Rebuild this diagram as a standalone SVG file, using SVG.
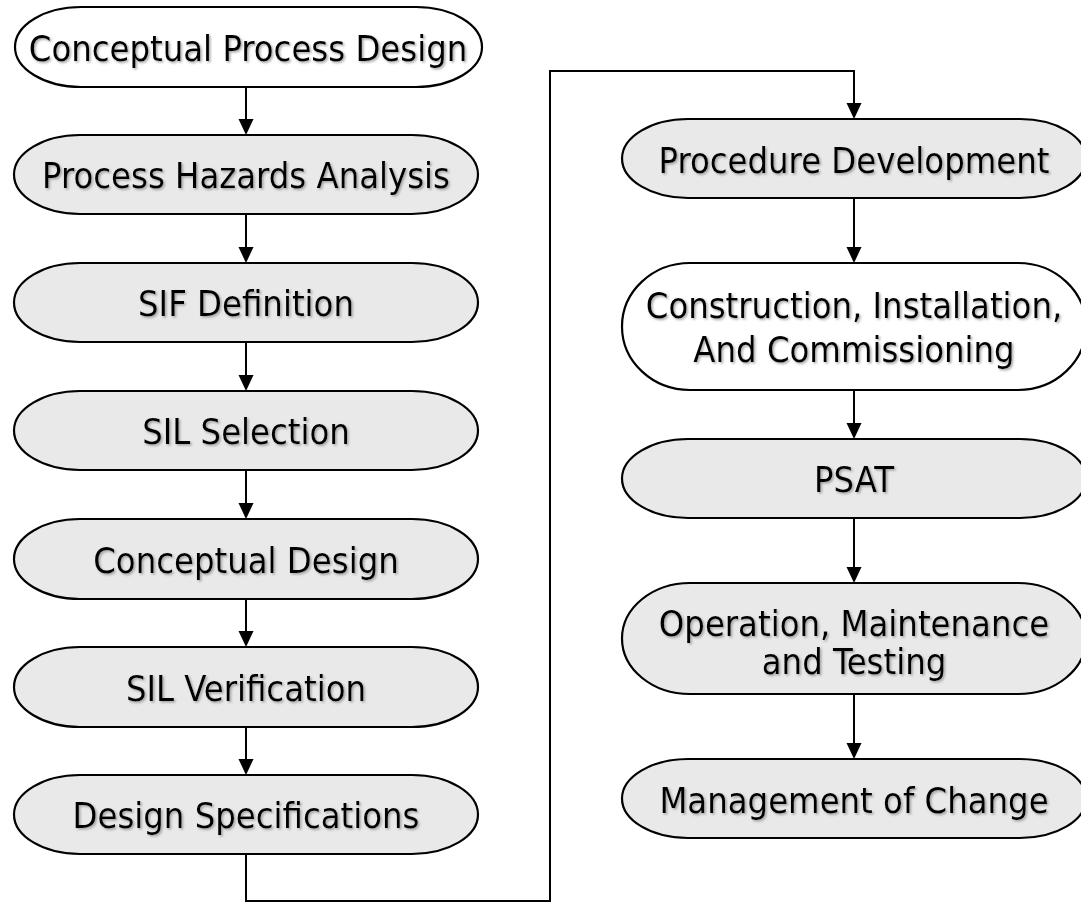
<svg xmlns="http://www.w3.org/2000/svg" xmlns:xlink="http://www.w3.org/1999/xlink" width="1081" height="903" viewBox="0 0 1081 903">
  <defs>
    <!-- downward arrowhead, tip at the origin -->
    <path id="head" d="M-7.5,-16 L7.5,-16 L0,0 Z" fill="#000"/>
    <filter id="txtShadow" x="-10%" y="-30%" width="120%" height="160%">
      <feDropShadow dx="1.5" dy="1.5" stdDeviation="1" flood-color="#808080" flood-opacity="0.7"/>
    </filter>
    <style>
      .node { stroke: #000; stroke-width: 2.2; }
      .grey { fill: #e9e9e9; }
      .white { fill: #ffffff; }
      .label { font-family: "DejaVu Sans Condensed", "DejaVu Sans", sans-serif; font-stretch: condensed; font-size: 36px; fill: #000; text-anchor: middle; filter: url(#txtShadow); }
      .conn { fill: none; stroke: #000; stroke-width: 2; }
    </style>
  </defs>

  <rect width="1081" height="903" fill="#fff"/>

  <!-- connectors -->
  <g id="connectors">
    <line class="conn" x1="246" y1="87" x2="246" y2="121"/>
    <use href="#head" xlink:href="#head" x="246" y="135"/>
    <line class="conn" x1="246" y1="214" x2="246" y2="249"/>
    <use href="#head" xlink:href="#head" x="246" y="263"/>
    <line class="conn" x1="246" y1="342" x2="246" y2="377"/>
    <use href="#head" xlink:href="#head" x="246" y="391"/>
    <line class="conn" x1="246" y1="470" x2="246" y2="505"/>
    <use href="#head" xlink:href="#head" x="246" y="519"/>
    <line class="conn" x1="246" y1="599" x2="246" y2="633"/>
    <use href="#head" xlink:href="#head" x="246" y="647"/>
    <line class="conn" x1="246" y1="727" x2="246" y2="761"/>
    <use href="#head" xlink:href="#head" x="246" y="775"/>
    <path class="conn" d="M246,854 V901 H550 V71 H854 V105"/>
    <use href="#head" xlink:href="#head" x="854" y="119"/>
    <line class="conn" x1="854" y1="198" x2="854" y2="249"/>
    <use href="#head" xlink:href="#head" x="854" y="263"/>
    <line class="conn" x1="854" y1="390" x2="854" y2="425"/>
    <use href="#head" xlink:href="#head" x="854" y="439"/>
    <line class="conn" x1="854" y1="518" x2="854" y2="569"/>
    <use href="#head" xlink:href="#head" x="854" y="583"/>
    <line class="conn" x1="854" y1="694" x2="854" y2="745"/>
    <use href="#head" xlink:href="#head" x="854" y="759"/>
  </g>

  <!-- left column -->
  <g id="conceptual-process-design">
    <path class="node white" d="M81,7 H416 A66 40 0 0 1 416,87 H81 A66 40 0 0 1 81,7 Z"/>
    <text class="label" x="248" y="61">Conceptual Process Design</text>
  </g>
  <g id="process-hazards-analysis">
    <path class="node grey" d="M80,135 H412 A66 39.5 0 0 1 412,214 H80 A66 39.5 0 0 1 80,135 Z"/>
    <text class="label" x="246" y="188">Process Hazards Analysis</text>
  </g>
  <g id="sif-definition">
    <path class="node grey" d="M80,263 H412 A66 39.5 0 0 1 412,342 H80 A66 39.5 0 0 1 80,263 Z"/>
    <text class="label" x="246" y="316">SIF Definition</text>
  </g>
  <g id="sil-selection">
    <path class="node grey" d="M80,391 H412 A66 39.5 0 0 1 412,470 H80 A66 39.5 0 0 1 80,391 Z"/>
    <text class="label" x="246" y="444">SIL Selection</text>
  </g>
  <g id="conceptual-design">
    <path class="node grey" d="M80,519 H412 A66 40 0 0 1 412,599 H80 A66 40 0 0 1 80,519 Z"/>
    <text class="label" x="246" y="573">Conceptual Design</text>
  </g>
  <g id="sil-verification">
    <path class="node grey" d="M80,647 H412 A66 40 0 0 1 412,727 H80 A66 40 0 0 1 80,647 Z"/>
    <text class="label" x="246" y="701">SIL Verification</text>
  </g>
  <g id="design-specifications">
    <path class="node grey" d="M80,775 H412 A66 39.5 0 0 1 412,854 H80 A66 39.5 0 0 1 80,775 Z"/>
    <text class="label" x="246" y="828">Design Specifications</text>
  </g>

  <!-- right column -->
  <g id="procedure-development">
    <path class="node grey" d="M688,119 H1020 A66 39.5 0 0 1 1020,198 H688 A66 39.5 0 0 1 688,119 Z"/>
    <text class="label" x="854" y="173">Procedure Development</text>
  </g>
  <g id="construction-installation-commissioning">
    <path class="node white" d="M690,263 H1018 A68 63.5 0 0 1 1018,390 H690 A68 63.5 0 0 1 690,263 Z"/>
    <text class="label" x="854" y="318">Construction, Installation,</text>
    <text class="label" x="854" y="362">And Commissioning</text>
  </g>
  <g id="psat">
    <path class="node grey" d="M688,439 H1020 A66 39.5 0 0 1 1020,518 H688 A66 39.5 0 0 1 688,439 Z"/>
    <text class="label" x="854" y="492">PSAT</text>
  </g>
  <g id="operation-maintenance-testing">
    <path class="node grey" d="M690,583 H1018 A68 55.5 0 0 1 1018,694 H690 A68 55.5 0 0 1 690,583 Z"/>
    <text class="label" x="854" y="636">Operation, Maintenance</text>
    <text class="label" x="854" y="674">and Testing</text>
  </g>
  <g id="management-of-change">
    <path class="node grey" d="M688,759 H1020 A66 39.5 0 0 1 1020,838 H688 A66 39.5 0 0 1 688,759 Z"/>
    <text class="label" x="854" y="813">Management of Change</text>
  </g>
</svg>
